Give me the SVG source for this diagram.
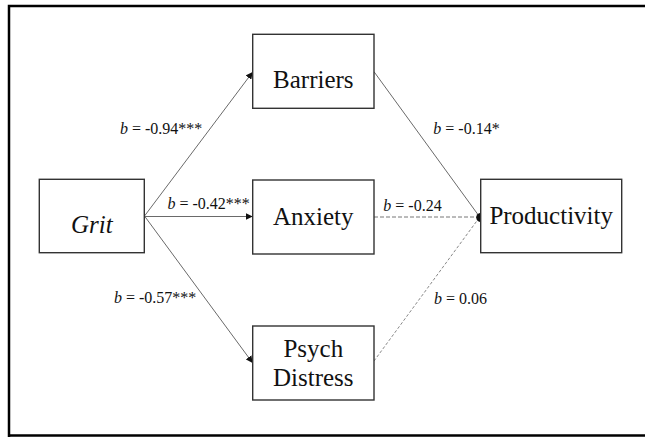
<svg xmlns="http://www.w3.org/2000/svg" width="645" height="437" viewBox="0 0 645 437">
<style>
.box{fill:#fff;stroke:#333;stroke-width:1.4}
.nt{font-family:"Liberation Serif","Times New Roman",serif;font-size:25px;fill:#111;text-anchor:middle}
.el{font-family:"Liberation Serif","Times New Roman",serif;font-size:16px;fill:#111}
.ln{stroke:#6a6a6a;stroke-width:1;fill:none}
.ds{stroke:#777;stroke-width:1;fill:none;stroke-dasharray:4 2}
.ds2{stroke:#888;stroke-width:1;fill:none;stroke-dasharray:3 2}
</style>
<defs>
<marker id="ah" viewBox="0 0 10 10" refX="10" refY="5" markerWidth="7" markerHeight="7" markerUnits="userSpaceOnUse" orient="auto">
<path d="M0,0 L10,5 L0,10 z" fill="#111"/>
</marker>
</defs>
<rect width="645" height="437" fill="#fff"/>
<path d="M9,437 V6 H645 M9,435.5 H645" fill="none" stroke="#000" stroke-width="2.5"/>
<g id="connectors">
<line class="ln" x1="144.5" y1="216" x2="252.7" y2="72" marker-end="url(#ah)"/>
<line class="ln" x1="144.5" y1="216.5" x2="252.7" y2="216.5" marker-end="url(#ah)"/>
<line class="ln" x1="144.5" y1="216" x2="252.7" y2="363" marker-end="url(#ah)"/>
<line class="ln" x1="374" y1="71.7" x2="479" y2="216"/>
<line class="ds" x1="374" y1="217" x2="479" y2="217"/>
<line class="ds2" x1="374" y1="361" x2="479" y2="218"/>
<path d="M480.7,213 A4.5,4.5 0 0 0 480.7,222 Z" fill="#111"/>
<text class="el" x="120" y="134.3"><tspan font-style="italic">b</tspan> = -0.94***</text>
<text class="el" x="167.5" y="209.3"><tspan font-style="italic">b</tspan> = -0.42***</text>
<text class="el" x="114" y="302.7"><tspan font-style="italic">b</tspan> = -0.57***</text>
<text class="el" x="433.3" y="134"><tspan font-style="italic">b</tspan> = -0.14*</text>
<text class="el" x="383.3" y="210.7"><tspan font-style="italic">b</tspan> = -0.24</text>
<text class="el" x="434" y="304"><tspan font-style="italic">b</tspan> = 0.06</text>
</g>
<g id="grit">
<rect class="box" x="39.3" y="179.3" width="105" height="73.4"/>
<text class="nt" x="91.8" y="233.3" font-style="italic">Grit</text>
</g>
<g id="barriers">
<rect class="box" x="252.7" y="34.3" width="121.3" height="74"/>
<text class="nt" x="313.3" y="88.3">Barriers</text>
</g>
<g id="anxiety">
<rect class="box" x="252.7" y="180" width="121.3" height="74"/>
<text class="nt" x="313.3" y="225">Anxiety</text>
</g>
<g id="psych">
<rect class="box" x="252.7" y="326" width="121.3" height="74"/>
<text class="nt" x="313.3" y="356.7">Psych</text>
<text class="nt" x="313.3" y="386">Distress</text>
</g>
<g id="productivity">
<rect class="box" x="480.7" y="179.3" width="141" height="73.4"/>
<text class="nt" x="551.2" y="224">Productivity</text>
</g>
</svg>
